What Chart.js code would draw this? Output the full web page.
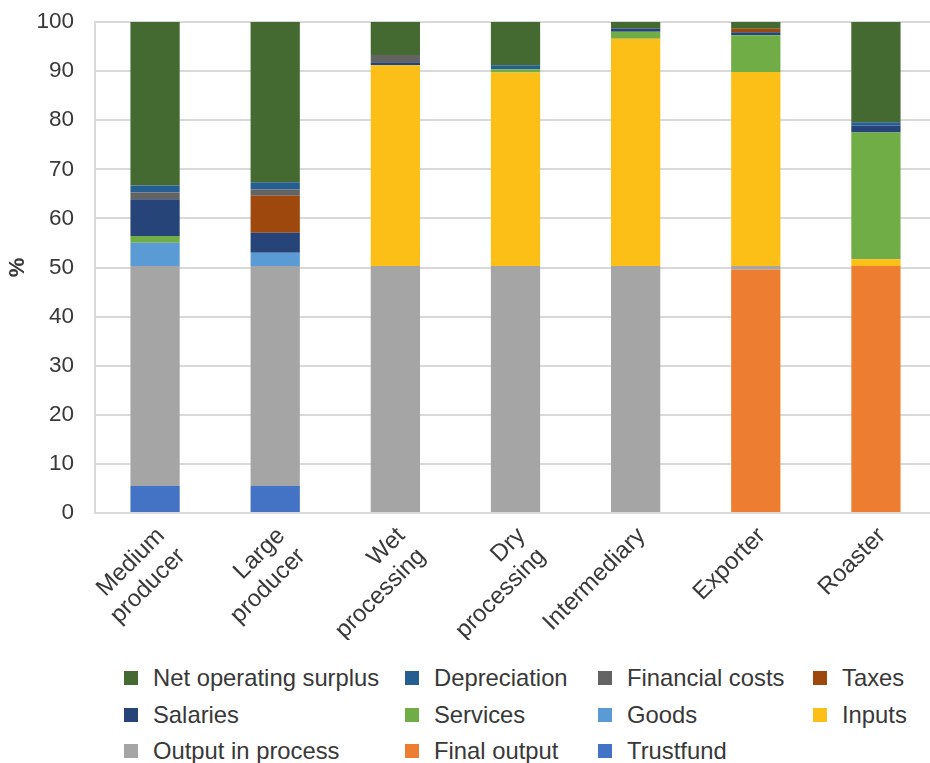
<!DOCTYPE html>
<html lang="en">
<head>
<meta charset="UTF-8">
<title>Value distribution along the chain</title>
<script src="https://cdn.jsdelivr.net/npm/chart.js@4.4.1/dist/chart.umd.min.js"></script>
<style>
    html, body {
        margin: 0;
        padding: 0;
        background: #ffffff;
        overflow: hidden;
    }

    .wrap {
        position: relative;
        width: 936px;
        height: 763px;
    }

    #myChart {
        position: absolute;
        left: 0;
        top: 0;
    }

    #legend {
        position: absolute;
        left: 124px;
        top: 660px;
        display: grid;
        grid-template-columns: 281px 193px 215px auto;
        grid-auto-rows: 36.5px;
        font-family: 'Liberation Sans', Arial, sans-serif;
        font-size: 23.8px;
        color: #383838;
    }

    #legend .item {
        display: flex;
        align-items: center;
        white-space: nowrap;
    }

    #legend .box {
        display: inline-block;
        width: 14px;
        height: 14px;
        margin-right: 15px;
    }
</style>
</head>
<body>

<div class="wrap">
    <canvas id="myChart" width="936" height="640"></canvas>
    <div id="legend"></div>
</div>

<script>
    // categories along the chain
    var categories = [
        ['Medium', 'producer'],
        ['Large', 'producer'],
        ['Wet', 'processing'],
        ['Dry', 'processing'],
        'Intermediary',
        'Exporter',
        'Roaster'
    ];

    // shares in %
    var trustfund      = [5.5, 5.5, 0, 0, 0, 0, 0];
    var finalOutput    = [0, 0, 0, 0, 0, 49.6, 50.3];
    var outputProcess  = [44.8, 44.8, 50.3, 50.3, 50.3, 0.7, 0];
    var inputs         = [0, 0, 40.9, 39.4, 46.3, 39.5, 1.4];
    var goods          = [4.75, 2.7, 0, 0, 0, 0, 0];
    var services       = [1.35, 0, 0, 0.7, 1.4, 7.5, 25.8];
    var salaries       = [7.5, 4.1, 0.6, 0, 0.7, 0.6, 1.4];
    var taxes          = [0, 7.5, 0, 0, 0, 0.7, 0];
    var financialCosts = [1.4, 1.3, 1.5, 0, 0, 0, 0];
    var depreciation   = [1.4, 1.45, 0, 0.8, 0, 0, 0.7];
    var netSurplus     = [33.3, 32.65, 6.7, 8.8, 1.3, 1.4, 20.4];

    var yTicks = [0, 10, 20, 30, 40, 50, 60, 70, 80, 90, 100];

    var fontName = "'Liberation Sans', Arial, sans-serif";
    var textColor = '#383838';
    var gridColor = '#d9d9d9';

    // bottom of the stack first
    var dataSource = {
        labels: categories,
        datasets: [
            { label: 'Trustfund', data: trustfund, backgroundColor: '#4472c4' },
            { label: 'Final output', data: finalOutput, backgroundColor: '#ed7d31' },
            { label: 'Output in process', data: outputProcess, backgroundColor: '#a5a5a5' },
            { label: 'Inputs', data: inputs, backgroundColor: '#fcbf17' },
            { label: 'Goods', data: goods, backgroundColor: '#5b9bd5' },
            { label: 'Services', data: services, backgroundColor: '#70ad47' },
            { label: 'Salaries', data: salaries, backgroundColor: '#264478' },
            { label: 'Taxes', data: taxes, backgroundColor: '#9e480e' },
            { label: 'Financial costs', data: financialCosts, backgroundColor: '#636363' },
            { label: 'Depreciation', data: depreciation, backgroundColor: '#255e91' },
            { label: 'Net operating surplus', data: netSurplus, backgroundColor: '#456a31' }
        ]
    };

    function buildLegend(chart) {
        var box = document.getElementById('legend');
        var sets = chart.data.datasets.slice().reverse();
        sets.forEach(function (ds) {
            var item = document.createElement('div');
            item.className = 'item';
            var sw = document.createElement('span');
            sw.className = 'box';
            sw.style.background = ds.backgroundColor;
            item.appendChild(sw);
            item.appendChild(document.createTextNode(ds.label));
            box.appendChild(item);
        });
    }

    function createChart() {
        var ctx = document.getElementById('myChart').getContext('2d');
        var myChart = new Chart(ctx, {
            type: 'bar',
            data: dataSource,
            options: {
                responsive: false,
                animation: false,
                layout: { padding: { top: 22, left: 0, right: 0, bottom: 0 } },
                plugins: {
                    legend: { display: false },
                    tooltip: { enabled: false }
                },
                datasets: {
                    bar: { barPercentage: 0.41, categoryPercentage: 1, borderWidth: 0 }
                },
                scales: {
                    x: {
                        stacked: true,
                        grid: { display: false, drawTicks: false },
                        border: { display: true, color: gridColor, width: 2 },
                        ticks: {
                            autoSkip: false,
                            maxRotation: 45,
                            minRotation: 45,
                            padding: 9,
                            labelOffset: 6,
                            color: textColor,
                            font: { family: fontName, size: 24 }
                        },
                        afterFit: function (scale) { scale.height = 127; }
                    },
                    y: {
                        stacked: true,
                        min: 0,
                        max: 100,
                        afterBuildTicks: function (scale) {
                            scale.ticks = yTicks.map(function (v) { return { value: v }; });
                        },
                        grid: { color: gridColor, lineWidth: 2, drawTicks: false },
                        border: { display: true, color: gridColor, width: 2 },
                        ticks: {
                            padding: 21,
                            color: textColor,
                            font: { family: fontName, size: 22.5 }
                        },
                        title: {
                            display: true,
                            text: '%',
                            color: textColor,
                            padding: { top: 5, bottom: 0 },
                            font: { family: fontName, size: 22, weight: 'bold' }
                        },
                        afterFit: function (scale) {
                            scale.width = 95;
                            // tick padding should not push the plot down
                            scale.paddingTop = 0;
                            scale.paddingBottom = 0;
                        }
                    }
                }
            }
        });
        buildLegend(myChart);
    }

    createChart();
</script>
</body>
</html>
